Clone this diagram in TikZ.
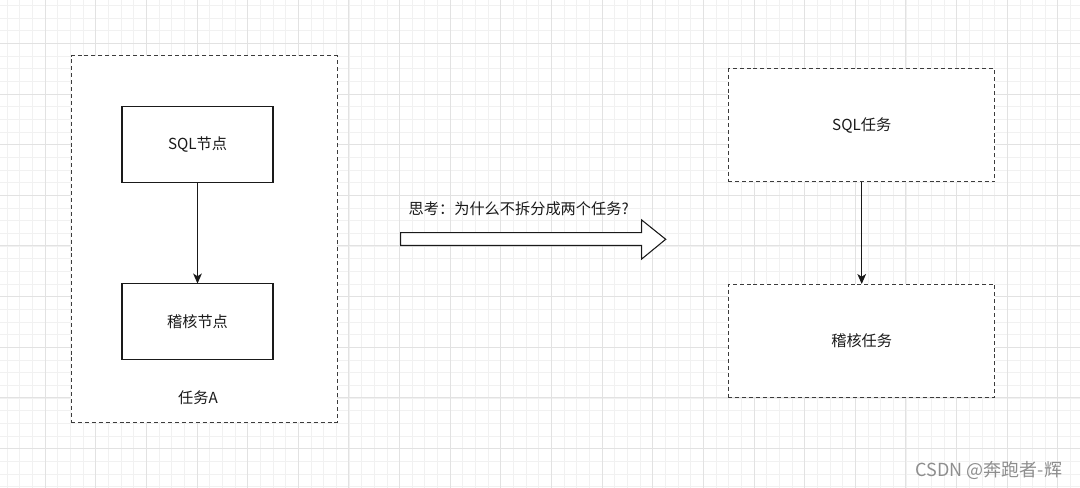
\documentclass[tikz,border=0pt]{standalone}
\usepackage{fontspec}
\setmainfont{Noto Sans CJK SC}
\usepackage{tikz}
\usetikzlibrary{arrows.meta}
\definecolor{GridMinor}{HTML}{F1F1F1}
\definecolor{GridMajor}{HTML}{E2E2E2}
\definecolor{Ink}{HTML}{1A1A1A}
\definecolor{Mark}{HTML}{8E8E8E}

\begin{document}
\begin{tikzpicture}[x=0.75pt,y=-0.75pt,
    txt/.style={font=\fontsize{11.4}{13}\selectfont,text=Ink},
    solidbox/.style={draw=Ink,line width=0.8pt,fill=white,inner sep=0pt,outer sep=0pt,txt},
    dashbox/.style={solidbox,draw=Ink!85,line width=0.75pt,dash pattern=on 3pt off 2.2pt},
    link/.style={draw=Ink,line width=0.8pt,-{Stealth[length=7.5pt,width=6.5pt,inset=2pt]}}]
  \useasboundingbox (0,0) rectangle (1080,488);
  \fill[white] (0,0) rectangle (1080,488);
  \foreach \k in {0,...,85} \draw[GridMinor,line width=0.6pt] ({7.1+12.66*\k},0) -- ++(0,488);
  \foreach \k in {0,...,38} \draw[GridMinor,line width=0.6pt] (0,{5.5+12.66*\k}) -- ++(1080,0);
  \foreach \k in {0,...,20} \draw[GridMajor,line width=0.6pt] ({45+50.64*\k},0) -- ++(0,488);
  \foreach \k in {0,...,8} \draw[GridMajor,line width=0.6pt] (0,{43.3+50.64*\k}) -- ++(1080,0);

  \node[dashbox,minimum width=199.5pt,minimum height=274.5pt] (taskA) at (204,239) {};
  \node[solidbox,minimum width=113.25pt,minimum height=57pt] (sqlnode) at (197.5,144.5) {SQL节点};
  \node[solidbox,minimum width=113.25pt,minimum height=56.6pt] (checknode) at (197.5,321.3) {稽核节点};
  \draw[link] (sqlnode) -- (checknode);
  \node[txt] (taskAlabel) at (198,398) {任务A};

  \node[txt,anchor=west] (question) at (404,208.3) {思考：为什么不拆分成两个任务?};
  \draw[Ink,line width=0.8pt,fill=white] (400.7,232.7) -- (641.7,232.7) -- (641.7,220) -- (665.7,239.3)
    -- (641.7,259) -- (641.7,245.5) -- (400.7,245.5) -- cycle;

  \node[dashbox,minimum width=199.9pt,minimum height=84.75pt] (sqltask) at (861.7,125.5) {SQL任务};
  \node[dashbox,minimum width=199.9pt,minimum height=84.75pt] (checktask) at (861.7,340.5) {稽核任务};
  \draw[link] (sqltask) -- (checktask);

  \node[font=\fontsize{13.5}{15}\selectfont,text=Mark] (watermark) at (989,470) {CSDN @奔跑者-辉};
\end{tikzpicture}
\end{document}
